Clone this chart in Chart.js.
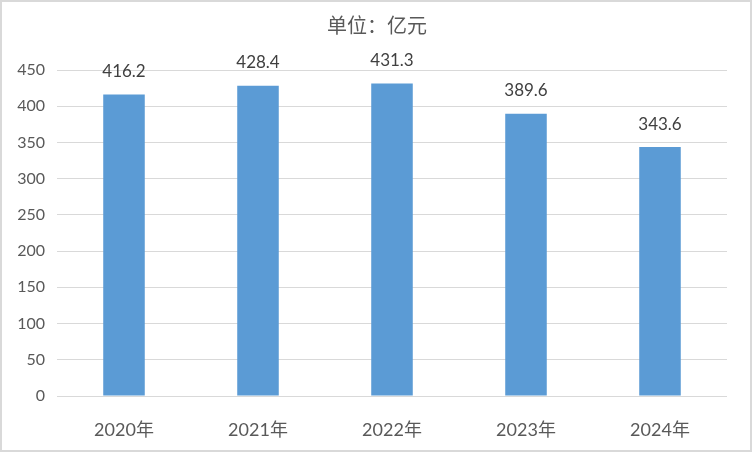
<!DOCTYPE html>
<html>
<head>
<meta charset="utf-8">
<script src="https://cdn.jsdelivr.net/npm/chart.js@4"></script>
<style>
    html, body { margin: 0; padding: 0; background: #ffffff; }
    #wrap { width: 752px; height: 452px; }
</style>
</head>
<body>
<div id="wrap"><canvas id="chart" width="752" height="452"></canvas></div>
<script>
// Chart data
const years = ['2020年', '2021年', '2022年', '2023年', '2024年'];
const values = [416.2, 428.4, 431.3, 389.6, 343.6];
const unitTitle = '单位：亿元';

const fontFamily = "Lato, 'Noto Sans CJK SC', sans-serif";

// Draws title, value labels and the outer frame
const decorPlugin = {
    id: 'decor',
    afterDatasetsDraw(chart) {
        const ctx = chart.ctx;
        const meta = chart.getDatasetMeta(0);
        ctx.save();
        ctx.fillStyle = '#404040';
        ctx.font = '17px ' + fontFamily;
        ctx.textAlign = 'center';
        ctx.textBaseline = 'middle';
        meta.data.forEach((bar, i) => {
            ctx.fillText(values[i].toFixed(1), bar.x, bar.y - 23);
        });

        ctx.fillStyle = '#595959';
        ctx.font = '20px ' + fontFamily;
        ctx.fillText(unitTitle, 377, 27);

        ctx.strokeStyle = '#d9d9d9';
        ctx.lineWidth = 2;
        ctx.strokeRect(1, 1, chart.width - 2, chart.height - 2);
        ctx.restore();
    }
};

new Chart(document.getElementById('chart').getContext('2d'), {
    type: 'bar',
    data: {
        labels: years,
        datasets: [{
            data: values,
            backgroundColor: '#5b9bd5',
            barPercentage: 1,
            categoryPercentage: 0.31
        }]
    },
    options: {
        responsive: false,
        animation: false,
        layout: {
            padding: { top: 70, left: 0, right: 25, bottom: 0 }
        },
        plugins: {
            legend: { display: false },
            title: { display: false },
            tooltip: { enabled: false }
        },
        scales: {
            x: {
                grid: { display: false },
                border: { display: false },
                ticks: {
                    color: '#595959',
                    font: { size: 18, family: fontFamily },
                    padding: 15
                },
                afterFit(scale) { scale.height = 56; }
            },
            y: {
                min: 0,
                max: 450,
                grid: { color: '#d9d9d9', lineWidth: 1, drawTicks: false },
                border: { display: false },
                ticks: {
                    stepSize: 50,
                    color: '#595959',
                    font: { size: 16, family: fontFamily },
                    padding: 12
                },
                afterFit(scale) { scale.width = 57; }
            }
        }
    },
    plugins: [decorPlugin]
});
</script>
</body>
</html>
